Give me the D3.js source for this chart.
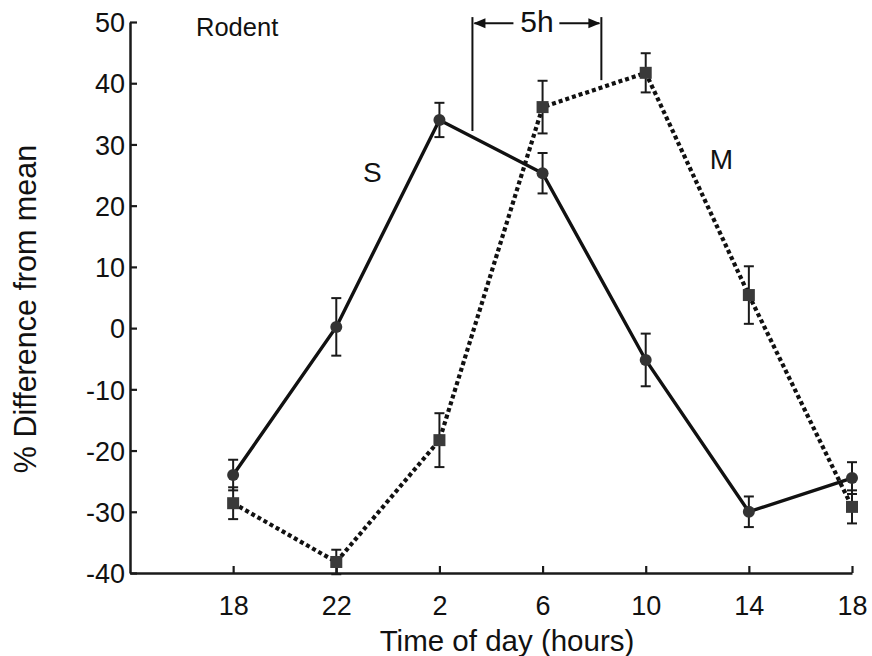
<!DOCTYPE html>
<html>
<head>
<meta charset="utf-8">
<script src="https://cdn.jsdelivr.net/npm/d3@7"></script>
<style>
  html, body { margin: 0; padding: 0; background: #fff; }
  svg text { font-family: "Liberation Sans", Arial, Helvetica, sans-serif; fill: #111; }
</style>
</head>
<body>
<svg id="chart" width="872" height="656"></svg>
<script>
// ---- data ----
const timeLabels = ["18", "22", "2", "6", "10", "14", "18"];
const sMean = [-24, 0.2, 34, 25.3, -5.2, -30, -24.5];
const sErr  = [2.5, 4.7, 2.8, 3.3, 4.3, 2.5, 2.6];
const mMean = [-28.6, -38.2, -18.3, 36.1, 41.7, 5.4, -29.2];
const mErr  = [2.6, 2.0, 4.4, 4.3, 3.2, 4.7, 2.7];
const yTicks = [-40, -30, -20, -10, 0, 10, 20, 30, 40, 50];
const bracketIdx = [2.32, 3.57];   // 5 h span in index units (1 index = 4 h)

// ---- scales ----
const svg = d3.select("#chart");
const x = d3.scaleLinear().domain([-1, 6]).range([130, 852]);
const y = d3.scaleLinear().domain([-40, 50]).range([573, 22]);

// ---- axes ----
const yAxis = d3.axisLeft(y).tickValues(yTicks).tickFormat(d => String(d))
  .tickSize(-7).tickSizeOuter(0).tickPadding(5);
const gy = svg.append("g").attr("transform", `translate(${x(-1)},0)`).call(yAxis);
const xAxis = d3.axisBottom(x).tickValues(d3.range(7)).tickFormat(i => timeLabels[i])
  .tickSize(-7).tickSizeOuter(0).tickPadding(23);
const gx = svg.append("g").attr("transform", `translate(0,${y(-40)})`).call(xAxis);

[gx, gy].forEach(g => {
  g.select(".domain").attr("stroke", "#1a1a1a").attr("stroke-width", 2.5);
  g.selectAll(".tick line").attr("stroke", "#1a1a1a").attr("stroke-width", 2.2);
  g.selectAll(".tick text").attr("font-size", 27).attr("fill", "#111")
    .style("font-family", "'Liberation Sans', Arial, sans-serif");
});
gy.selectAll(".tick text").attr("dy", "0.36em");

// axis titles
svg.append("text")
  .attr("x", 507).attr("y", 651)
  .attr("text-anchor", "middle").attr("font-size", 29.5)
  .text("Time of day (hours)");
svg.append("text")
  .attr("transform", `translate(36,309) rotate(-90)`)
  .attr("text-anchor", "middle").attr("font-size", 30.5)
  .text("% Difference from mean");

// ---- series ----
const line = d3.line().x((d, i) => x(i)).y(d => y(d));

// M (dotted, squares)
svg.append("path").datum(mMean).attr("d", line)
  .attr("fill", "none").attr("stroke", "#111").attr("stroke-width", 4.2)
  .attr("stroke-dasharray", "4,3");
// S (solid, circles)
svg.append("path").datum(sMean).attr("d", line)
  .attr("fill", "none").attr("stroke", "#111").attr("stroke-width", 3.4);

function errorBars(means, errs) {
  const g = svg.append("g").attr("stroke", "#1a1a1a").attr("stroke-width", 2);
  means.forEach((m, i) => {
    const cx = x(i), top = y(m + errs[i]), bot = y(m - errs[i]);
    g.append("line").attr("x1", cx).attr("x2", cx).attr("y1", top).attr("y2", bot);
    g.append("line").attr("x1", cx - 5).attr("x2", cx + 5).attr("y1", top).attr("y2", top);
    g.append("line").attr("x1", cx - 5).attr("x2", cx + 5).attr("y1", bot).attr("y2", bot);
  });
}
errorBars(mMean, mErr);
errorBars(sMean, sErr);

svg.append("g").selectAll("rect").data(mMean).join("rect")
  .attr("x", (d, i) => x(i) - 6).attr("y", d => y(d) - 6)
  .attr("width", 12).attr("height", 12).attr("fill", "#3a3a3a");
svg.append("g").selectAll("circle").data(sMean).join("circle")
  .attr("cx", (d, i) => x(i)).attr("cy", d => y(d)).attr("r", 6).attr("fill", "#333");

// ---- annotations ----
svg.append("text").attr("x", x(-0.36)).attr("y", y(47.7)).attr("font-size", 25.5).text("Rodent");
svg.append("text").attr("x", x(1.26)).attr("y", y(23.9)).attr("font-size", 28).text("S");
svg.append("text").attr("x", x(4.62)).attr("y", y(26)).attr("font-size", 28).text("M");

// 5h bracket
const bx0 = x(bracketIdx[0]), bx1 = x(bracketIdx[1]);
const byTop = y(50.8), byArrow = y(49.8);
const br = svg.append("g").attr("stroke", "#111").attr("stroke-width", 2).attr("fill", "none");
br.append("line").attr("x1", bx0).attr("x2", bx0).attr("y1", byTop).attr("y2", y(32.2));
br.append("line").attr("x1", bx1).attr("x2", bx1).attr("y1", byTop).attr("y2", y(40.5));
br.append("line").attr("x1", bx0 + 2).attr("x2", bx0 + 41).attr("y1", byArrow).attr("y2", byArrow);
br.append("line").attr("x1", bx1 - 42).attr("x2", bx1 - 2).attr("y1", byArrow).attr("y2", byArrow);
svg.append("path")
  .attr("d", `M${bx0 + 1},${byArrow} l12,-5 l0,10 Z`).attr("fill", "#111");
svg.append("path")
  .attr("d", `M${bx1 - 1},${byArrow} l-12,-5 l0,10 Z`).attr("fill", "#111");
svg.append("text").attr("x", (bx0 + bx1) / 2).attr("y", 32)
  .attr("text-anchor", "middle").attr("font-size", 30).text("5h");
</script>
</body>
</html>
